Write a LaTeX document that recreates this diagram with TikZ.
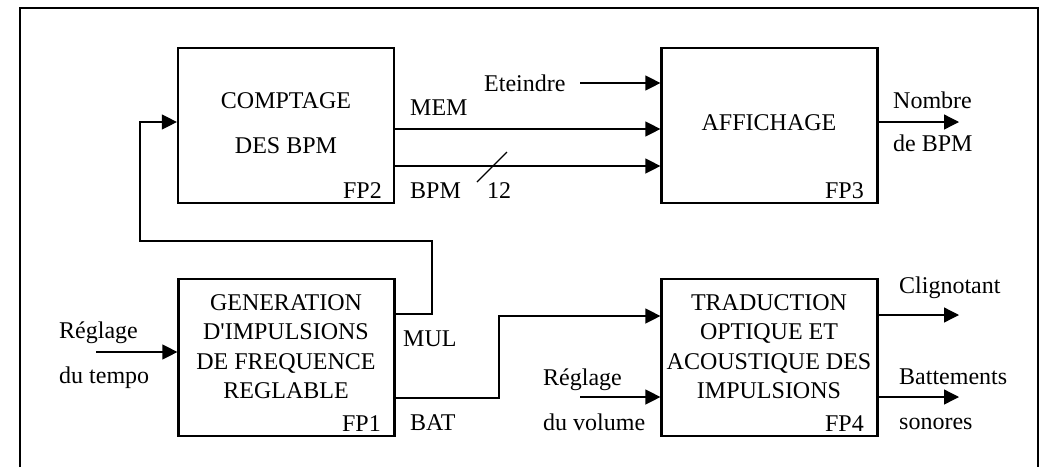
\documentclass[tikz,border=0pt]{standalone}
\usepackage{fontspec}
\setmainfont{Liberation Serif}
\usetikzlibrary{arrows.meta}
\begin{document}
\begin{tikzpicture}[x=1pt,y=-1pt,
  box/.style={draw, line width=2.2pt, minimum width=216pt, minimum height=155pt, inner sep=0pt},
  txt/.style={font=\fontsize{24}{29}\selectfont, inner sep=0pt, anchor=base},
  ltxt/.style={txt, anchor=base west},
  rtxt/.style={txt, anchor=base east},
  wire/.style={line width=1.3pt},
  arr/.style={wire, -{Triangle[length=15pt,width=15pt]}}]
\useasboundingbox (0,0) rectangle (1047,467);
% frame
\coordinate (frA) at (20,467);
\coordinate (frB) at (20,8);
\coordinate (frC) at (1038,8);
\coordinate (frD) at (1038,467);
\draw[line width=2.2pt] (frA) -- (frB) -- (frC) -- (frD);
% boxes
\node[box] (fp2) at (286,125.5) {};
\node[box] (fp3) at (769.5,125.5) {};
\node[box, minimum height=157pt] (fp1) at (286.5,357.5) {};
\node[box, minimum height=157pt] (fp4) at (769.5,357.5) {};
% box texts
\node[txt] (t2a) at (286,108) {COMPTAGE};
\node[txt] (t2b) at (286,153) {DES BPM};
\node[rtxt] (n2) at (382,198) {FP2};
\node[txt] (t3a) at (769,130) {AFFICHAGE};
\node[rtxt] (n3) at (864,198) {FP3};
\node[txt] (t1a) at (286,310) {GENERATION};
\node[txt] (t1b) at (286,339) {D\textquotesingle IMPULSIONS};
\node[txt] (t1c) at (286,369) {DE FREQUENCE};
\node[txt] (t1d) at (286,398) {REGLABLE};
\node[rtxt] (n1) at (381,431) {FP1};
\node[txt] (t4a) at (769,310) {TRADUCTION};
\node[txt] (t4b) at (769,339) {OPTIQUE ET};
\node[txt] (t4c) at (769,369) {ACOUSTIQUE DES};
\node[txt] (t4d) at (769,398) {IMPULSIONS};
\node[rtxt] (n4) at (864,431) {FP4};
% outside labels
\node[ltxt] (let) at (484,91) {Eteindre};
\node[ltxt] (lmem) at (410,115) {MEM};
\node[ltxt] (lbpm) at (410,198) {BPM};
\node[ltxt] (l12) at (487,198) {12};
\node[ltxt] (lnb1) at (893,108) {Nombre};
\node[ltxt] (lnb2) at (893,151) {de BPM};
\node[ltxt] (lmul) at (403,346) {MUL};
\node[ltxt] (lbat) at (410,430) {BAT};
\node[ltxt] (lrt1) at (59,338) {Réglage};
\node[ltxt] (lrt2) at (59,383) {du tempo};
\node[ltxt] (lrv1) at (543,385) {Réglage};
\node[ltxt] (lrv2) at (543,430) {du volume};
\node[ltxt] (lcl) at (899,293) {Clignotant};
\node[ltxt] (lba1) at (899,384) {Battements};
\node[ltxt] (lba2) at (899,429) {sonores};
% connector coordinates
\coordinate (fbA) at (432,314);
\coordinate (fbB) at (432,241);
\coordinate (fbD) at (140,122);
\coordinate (batA) at (499,398);
\coordinate (batB) at (499,316);
\coordinate (tempo) at (96,352);
\coordinate (vol) at (580,397);
\coordinate (et) at (580,83);
\coordinate (memy) at (0,129);
\coordinate (bpmy) at (0,166);
\coordinate (sl1) at (477,182);
\coordinate (sl2) at (507,152);
\coordinate (nb) at (959,122);
\coordinate (cl) at (959,315);
\coordinate (bt) at (959,397);
% connectors
\draw[arr] (fp1.east |- fbA) -| (fbB) -| (fbD) -- (fp2.west |- fbD);
\draw[arr] (fp1.east |- batA) -| (batB) -- (fp4.west |- batB);
\draw[arr] (tempo) -- (fp1.west |- tempo);
\draw[arr] (vol) -- (fp4.west |- vol);
\draw[arr] (et) -- (fp3.west |- et);
\draw[arr] (fp2.east |- memy) -- (fp3.west |- memy);
\draw[arr] (fp2.east |- bpmy) -- (fp3.west |- bpmy);
\draw[wire] (sl1) -- (sl2);
\draw[arr] (fp3.east |- nb) -- (nb);
\draw[arr] (fp4.east |- cl) -- (cl);
\draw[arr] (fp4.east |- bt) -- (bt);
\end{tikzpicture}
\end{document}
